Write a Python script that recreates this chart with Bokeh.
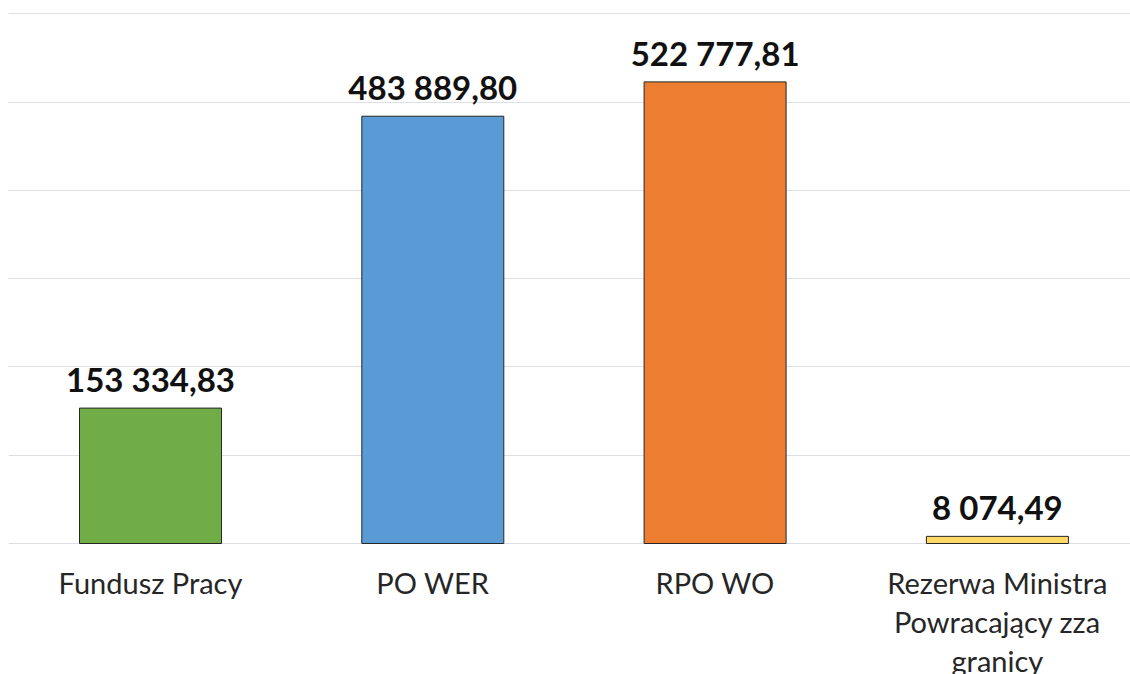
from bokeh.plotting import figure
from bokeh.models import Range1d, FixedTicker, ColumnDataSource
from bokeh.core.properties import value
from bokeh.embed import file_html
from bokeh.resources import INLINE

categories = ["Fundusz Pracy", "PO WER", "RPO WO", "Rezerwa Ministra\nPowracający zza\ngranicy"]
values = [153334.83, 483889.80, 522777.81, 8074.49]
colors = ["#70AD47", "#5B9BD5", "#ED7D31", "#FFD966"]
grid_ticks = [0, 100000, 200000, 300000, 400000, 500000, 600000]


def fmt(v):
    return f"{v:,.2f}".replace(",", " ").replace(".", ",")


xs = list(range(len(categories)))
src = ColumnDataSource(dict(
    x=xs,
    top=values,
    color=colors,
    cat=categories,
    lab=[fmt(v) for v in values],
    zero=[0] * len(values),
))

W, H = 1130, 674
LEFT = 8
step = 282.3
x_start = -(150 - LEFT) / step
x_end = x_start + (W - LEFT) / step
px_per_unit = 88.3 / 100000
y_top = 543 / px_per_unit
y_bot = -(H - 543) / px_per_unit

p = figure(width=W, height=H, output_backend="svg", toolbar_location=None,
           x_range=Range1d(x_start, x_end), y_range=Range1d(y_bot, y_top),
           min_border=0, min_border_left=LEFT, min_border_right=0,
           min_border_top=0, min_border_bottom=0)
p.outline_line_color = None
p.background_fill_color = "white"
p.border_fill_color = "white"
p.xaxis.visible = False
p.yaxis.visible = False
p.xgrid.visible = False
p.ygrid.ticker = FixedTicker(ticks=grid_ticks)
p.ygrid.grid_line_color = "#dcdfe6"
p.ygrid.grid_line_width = 1

p.vbar(x="x", top="top", bottom=0, width=142 / step, source=src,
       fill_color="color", line_color="#262626", line_width=1)

p.text(x="x", y="top", text="lab", source=src, y_offset=-29,
       text_align="center", text_baseline="alphabetic",
       text_font=value("Lato"), text_font_style="bold",
       text_font_size="33px", text_color="#111111")

p.text(x="x", y="zero", text="cat", source=src, y_offset=21,
       text_align="center", text_baseline="top",
       text_font=value("Lato"), text_font_size="29px",
       text_line_height=1.12, text_color="#262626")

open("out.html", "w").write(file_html(p, INLINE))
